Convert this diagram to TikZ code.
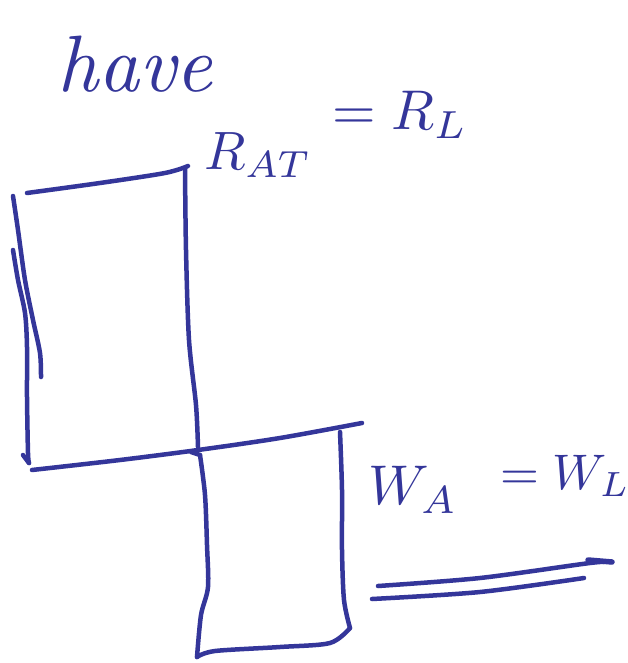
\documentclass[tikz,border=0pt]{standalone}
\usepackage{tikz}
\definecolor{ink}{RGB}{52,54,154}
\begin{document}
\begin{tikzpicture}[x=1pt,y=-1pt,
  pen/.style={draw=ink,line width=4.5pt,line cap=round,line join=round},
  hand/.style={text=ink,inner sep=0pt,anchor=center}]
\useasboundingbox[fill=white] (0,0) rectangle (628,663);
% labels
\node[hand,font=\itshape,scale=8] (have) at (135,64) {have};
\node[hand,scale=5.4] (rat) at (258,155) {$R_{AT}$};
\node[hand,scale=5.6] (rl) at (400,115) {$=R_{L}$};
\node[hand,scale=5.6] (wa) at (413,490) {$W_{A}$};
\node[hand,scale=5.0] (wl) at (565,476) {$=W_{L}$};
% top rectangle
\draw[pen] plot[smooth] coordinates {(27,193) (100,183) (165,173) (188,166)};
\draw[pen] plot[smooth] coordinates {(13,196) (18,230) (25,280) (33,320) (40,353) (41,377)};
\draw[pen] plot[smooth] coordinates {(13,250) (18,280) (25,313) (27,347) (27,397) (28,453) (29,463)};
\draw[pen] (23,455) -- (29,463);
% long middle line
\draw[pen] plot[smooth] coordinates {(32,470) (120,460) (198,450) (280,438) (362,423)};
% shared vertical line
\draw[pen] plot[smooth] coordinates {(185,168) (186,250) (189,340) (196,405) (198,447)};
\draw[pen] (191,452) -- (200,455);
\draw[pen] plot[smooth] coordinates {(200,455) (205,495) (207,545) (208,587) (201,615) (197,657)};
% bottom rectangle
\draw[pen] plot[smooth] coordinates {(197,657) (215,651) (280,647) (330,643) (350,628)};
\draw[pen] plot[smooth] coordinates {(340,432) (342,490) (342,550) (344,600) (350,628)};
% double underline
\draw[pen] plot[smooth] coordinates {(378,586) (480,578) (590,563) (612,562)};
\draw[pen,line width=5.5pt] (588,560) -- (612,562);
\draw[pen] plot[smooth] coordinates {(372,599) (480,592) (584,578)};
\end{tikzpicture}
\end{document}
